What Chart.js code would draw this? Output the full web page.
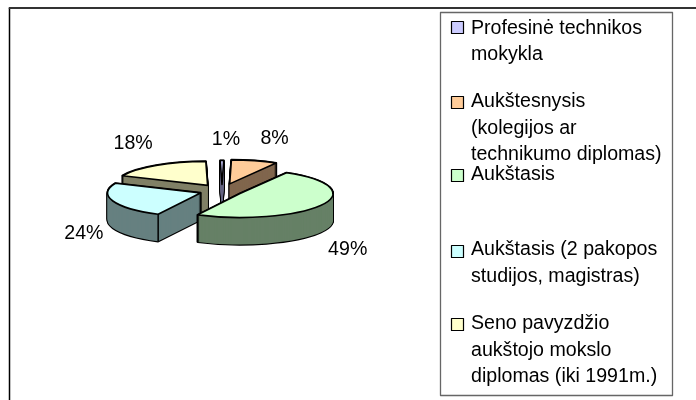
<!DOCTYPE html>
<html><head><meta charset="utf-8">
<style>html,body{margin:0;padding:0;background:#fff}canvas{display:block}</style>
<script src="https://cdn.jsdelivr.net/npm/chart.js@4"></script>
</head><body><canvas id="c" width="696" height="400"></canvas>
<script>
const categories = [
  ["Profesinė technikos","mokykla"],
  ["Aukštesnysis","(kolegijos ar","technikumo diplomas)"],
  ["Aukštasis"],
  ["Aukštasis (2 pakopos","studijos, magistras)"],
  ["Seno pavyzdžio","aukštojo mokslo","diplomas (iki 1991m.)"]
];
const shares = [0.6, 8, 49, 24, 18];
const topColors = ["#CCCCFF","#FFCC99","#CCFFCC","#CCFFFF","#FFFFCC"];
const sideColors = ["#666680","#80664D","#668066","#668080","#808066"];

const TILT = 0.258, DEPTH = 27, CY = 191;
const explode = [25, 28.7, 20.5, 22.8, 26];
const paintOrder = [4, 0, 1, 3, 2];
const labelNudge = [[4,-21],[20,-22],[26,45],[-29,33],[-23,-22]];
const legendSwatchY = [21, 96, 169, 245, 318];
const legendLineY = [[29,55],[102,129,155],[175],[250,277],[324,351,377]];
const FONT = '19.6px "Liberation Sans", Arial, sans-serif';

function place(ctx, i, arc, dy) {
  const mid = (arc.startAngle + arc.endAngle) / 2;
  ctx.translate(Math.cos(mid) * explode[i], dy + Math.sin(mid) * explode[i] * TILT);
  ctx.translate(0, CY);
  ctx.scale(1, TILT);
  ctx.translate(0, -CY);
}
function drawArc(ctx, i, arc, dy, fill, stroke, lw) {
  const g = Object.create(arc);
  g.options = Object.assign({}, arc.options, {backgroundColor: fill, borderColor: stroke, borderWidth: 0, offset: 0});
  ctx.save();
  place(ctx, i, arc, dy);
  arc.constructor.prototype.draw.call(g, ctx);
  if (lw) {
    ctx.beginPath();
    ctx.moveTo(arc.x, arc.y);
    ctx.arc(arc.x, arc.y, arc.outerRadius, arc.startAngle, arc.endAngle);
    ctx.closePath();
    ctx.restore();
    ctx.strokeStyle = stroke; ctx.lineWidth = lw; ctx.lineJoin = 'round';
    ctx.stroke();
  } else ctx.restore();
}
const pie3d = {
  id: 'pie3d',
  beforeDatasetDraw(chart) {
    const ctx = chart.ctx, arcs = chart.getDatasetMeta(0).data;
    paintOrder.forEach(i => {
      const a = arcs[i];
      for (let d = DEPTH; d >= 0; d--) drawArc(ctx, i, a, d, '#000', '#000', 2.2);
      for (let d = DEPTH; d >= 0; d--) drawArc(ctx, i, a, d, sideColors[i], sideColors[i], 0);
      const mid = (a.startAngle + a.endAngle) / 2;
      const ox = a.x + Math.cos(mid) * explode[i], oy = CY + Math.sin(mid) * explode[i] * TILT;
      ctx.strokeStyle = '#000'; ctx.lineWidth = 1.5;
      [a.startAngle, a.endAngle].forEach(t => {
        if (Math.sin(t) <= 0) return;
        const x = ox + Math.cos(t)*a.outerRadius, y = oy + Math.sin(t)*a.outerRadius*TILT;
        ctx.beginPath(); ctx.moveTo(x,y); ctx.lineTo(x,y+DEPTH); ctx.stroke();
      });
      drawArc(ctx, i, a, 0, topColors[i], '#000', 1.6);
    });
    return false;
  },
  afterDraw(chart) {
    const ctx = chart.ctx, arcs = chart.getDatasetMeta(0).data;
    ctx.save();
    ctx.font = FONT; ctx.fillStyle = '#000'; ctx.textBaseline = 'middle'; ctx.textAlign = 'center';
    arcs.forEach((a, i) => {
      const mid = (a.startAngle + a.endAngle) / 2;
      const x = a.x + Math.cos(mid) * (explode[i] + a.outerRadius) + labelNudge[i][0];
      const y = CY + Math.sin(mid) * (explode[i] + a.outerRadius) * TILT + labelNudge[i][1];
      ctx.fillText(Math.round(shares[i]) + '%', x, y);
    });
    // outer frame
    ctx.strokeStyle = '#000'; ctx.lineWidth = 1.5;
    ctx.beginPath(); ctx.moveTo(9.5, 400); ctx.lineTo(9.5, 8); ctx.stroke();
    ctx.strokeStyle = '#333'; ctx.lineWidth = 2;
    ctx.beginPath(); ctx.moveTo(8.75, 8); ctx.lineTo(696, 8); ctx.stroke();
    // legend
    ctx.strokeStyle = '#666'; ctx.lineWidth = 1.3;
    ctx.strokeRect(440.5, 12.5, 232, 383);
    ctx.textAlign = 'left';
    categories.forEach((lines, i) => {
      ctx.fillStyle = topColors[i]; ctx.strokeStyle = '#000'; ctx.lineWidth = 1.2;
      ctx.fillRect(451.5, legendSwatchY[i] + .5, 12, 12);
      ctx.strokeRect(451.5, legendSwatchY[i] + .5, 12, 12);
      ctx.fillStyle = '#000';
      lines.forEach((t, j) => ctx.fillText(t, 471, legendLineY[i][j]));
    });
    ctx.restore();
  }
};
new Chart(document.getElementById('c'), {
  type: 'pie',
  data: { labels: categories, datasets: [{ data: shares, backgroundColor: topColors, borderColor: '#000', borderWidth: 0 }] },
  options: {
    responsive: false, animation: false,
    rotation: -1.1, radius: 93,
    layout: { padding: { left: 0, top: 0, right: 696 - 2 * 222, bottom: 400 - 2 * CY } },
    plugins: { legend: { display: false }, tooltip: { enabled: false } }
  },
  plugins: [pie3d]
});
</script></body></html>
